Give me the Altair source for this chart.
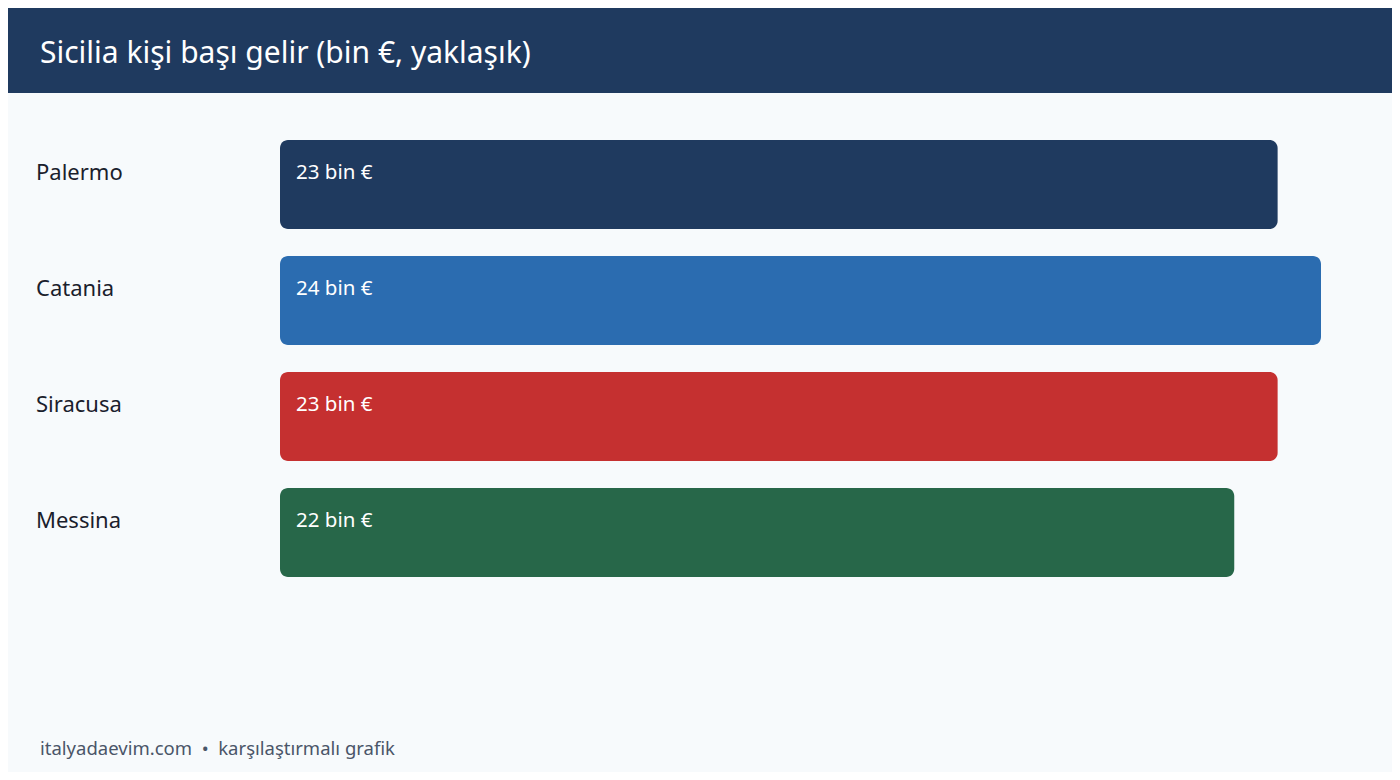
import altair as alt
import pandas as pd

cities = ["Palermo", "Catania", "Siracusa", "Messina"]
values = [23, 24, 23, 22]
labels = ["23 bin €", "24 bin €", "23 bin €", "22 bin €"]
colors = ["#1f3a5f", "#2b6cb0", "#c53030", "#276749"]

title_text = "Sicilia kişi başı gelir (bin €, yaklaşık)"
footer_text = "italyadaevim.com\u00a0\u00a0•\u00a0\u00a0karşılaştırmalı grafik"

W, H = 1384, 764
FONT = "Noto Sans"

df = pd.DataFrame({"city": cities, "value": values, "label": labels})
one = pd.DataFrame({"t": [title_text], "f": [footer_text]})

yscale = alt.Scale(domain=cities, range=[132, 569], paddingInner=0.2328, paddingOuter=0)
xscale = alt.Scale(domain=[0, 24], range=[272, 1313])

base = alt.Chart(df)

bars = base.mark_bar(cornerRadius=8).encode(
    y=alt.Y("city:N", scale=yscale, axis=None),
    x=alt.X("value:Q", scale=xscale, axis=None),
    x2=alt.datum(0),
    color=alt.Color("city:N", scale=alt.Scale(domain=cities, range=colors), legend=None),
)

bar_labels = base.mark_text(
    align="left", baseline="alphabetic", dx=16, dy=-5.5,
    font=FONT, fontSize=20.5, color="#ffffff",
).encode(
    y=alt.Y("city:N", scale=yscale, axis=None),
    x=alt.datum(0, scale=xscale),
    text="label:N",
)

cat_labels = base.mark_text(
    align="left", baseline="alphabetic", dy=-4.5,
    font=FONT, fontSize=22, color="#1a202c",
).encode(
    y=alt.Y("city:N", scale=yscale, axis=None),
    x=alt.value(28),
    text="city:N",
)

header = alt.Chart(one).mark_rect(color="#1f3a5f").encode(
    x=alt.value(0), x2=alt.value(W), y=alt.value(0), y2=alt.value(85)
)

title = alt.Chart(one).mark_text(
    align="left", baseline="alphabetic", font=FONT, fontSize=30, color="#ffffff"
).encode(x=alt.value(32), y=alt.value(55), text="t:N")

footer = alt.Chart(one).mark_text(
    align="left", baseline="alphabetic", font=FONT, fontSize=18.5, color="#4a5568"
).encode(x=alt.value(32), y=alt.value(747), text="f:N")

chart = alt.layer(header, title, bars, bar_labels, cat_labels, footer).resolve_scale(
    y="shared", x="shared"
).properties(
    width=W, height=H, background="#f7fafc", padding=0,
    autosize=alt.AutoSizeParams(type="none"),
).configure_view(stroke=None)

chart.save("out.html", embed_options={"renderer": "svg", "actions": False})
